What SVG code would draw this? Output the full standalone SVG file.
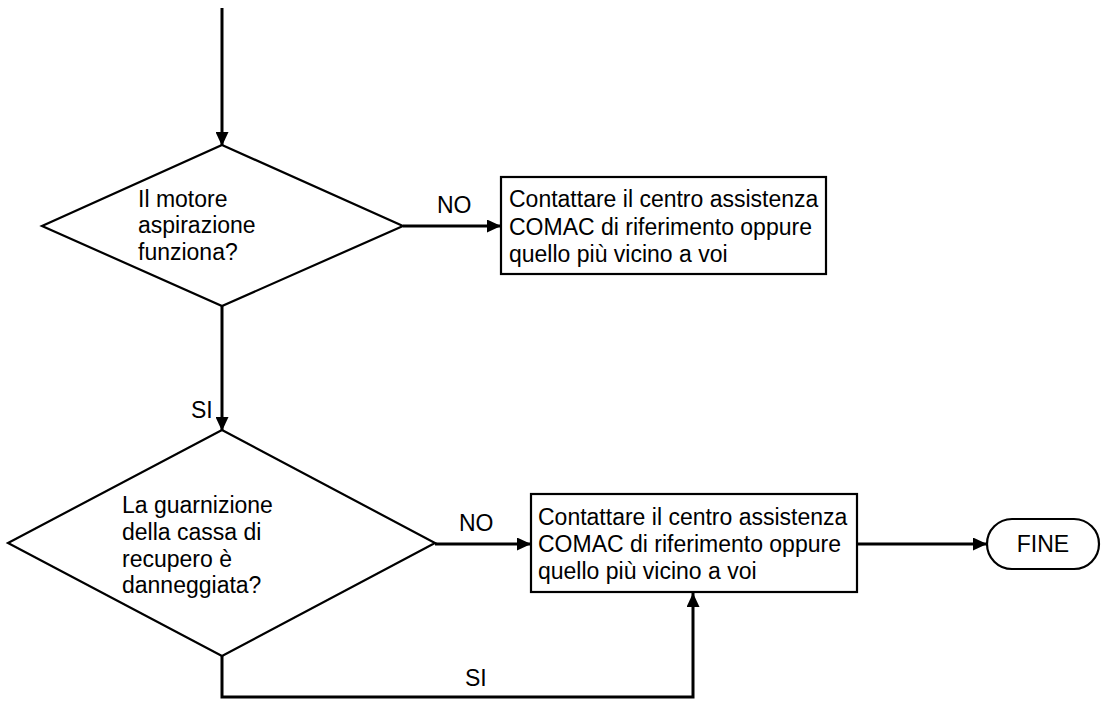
<svg xmlns="http://www.w3.org/2000/svg" width="1109" height="702" viewBox="0 0 1109 702">
<defs>
<style>
.shape{fill:#fff;stroke:#000;stroke-width:2.2}
.line{fill:none;stroke:#000;stroke-width:3}
text{font-family:"Liberation Sans",Arial,sans-serif;font-size:23px;fill:#000}
</style>
<marker id="arr" markerWidth="15" markerHeight="13" refX="14" refY="6.5" orient="auto" markerUnits="userSpaceOnUse">
<path d="M0,0 L14,6.5 L0,13 Z" fill="#000"/>
</marker>
</defs>
<rect width="1109" height="702" fill="#fff"/>
<g id="connectors">
<line class="line" x1="222" y1="8" x2="222" y2="146" marker-end="url(#arr)"/>
<line class="line" x1="403" y1="226" x2="501" y2="226" marker-end="url(#arr)"/>
<text x="437" y="213">NO</text>
<line class="line" x1="222" y1="306" x2="222" y2="431" marker-end="url(#arr)"/>
<text x="191" y="418">SI</text>
<line class="line" x1="435" y1="544" x2="531" y2="544" marker-end="url(#arr)"/>
<text x="459" y="531">NO</text>
<polyline class="line" points="222,656 222,697 693,697 693,593" marker-end="url(#arr)"/>
<text x="465" y="686">SI</text>
<line class="line" x1="857" y1="544" x2="987" y2="544" marker-end="url(#arr)"/>
</g>
<g id="decision1">
<polygon class="shape" points="222,145 403,226 222,306 42,226"/>
<text x="138" y="207">Il motore</text>
<text x="138" y="233">aspirazione</text>
<text x="138" y="260">funziona?</text>
</g>
<g id="action1">
<rect class="shape" x="501" y="177" width="325" height="97"/>
<text x="509" y="207">Contattare il centro assistenza</text>
<text x="509" y="235">COMAC di riferimento oppure</text>
<text x="509" y="262">quello più vicino a voi</text>
</g>
<g id="decision2">
<polygon class="shape" points="222,430 435,543 222,656 8,543"/>
<text x="122" y="513">La guarnizione</text>
<text x="122" y="540">della cassa di</text>
<text x="122" y="567">recupero è</text>
<text x="122" y="593">danneggiata?</text>
</g>
<g id="action2">
<rect class="shape" x="531" y="494" width="326" height="98"/>
<text x="538" y="525">Contattare il centro assistenza</text>
<text x="538" y="552">COMAC di riferimento oppure</text>
<text x="538" y="579">quello più vicino a voi</text>
</g>
<g id="end">
<rect class="shape" x="987" y="519" width="112" height="50" rx="25" ry="25"/>
<text x="1043" y="552" text-anchor="middle">FINE</text>
</g>
</svg>
